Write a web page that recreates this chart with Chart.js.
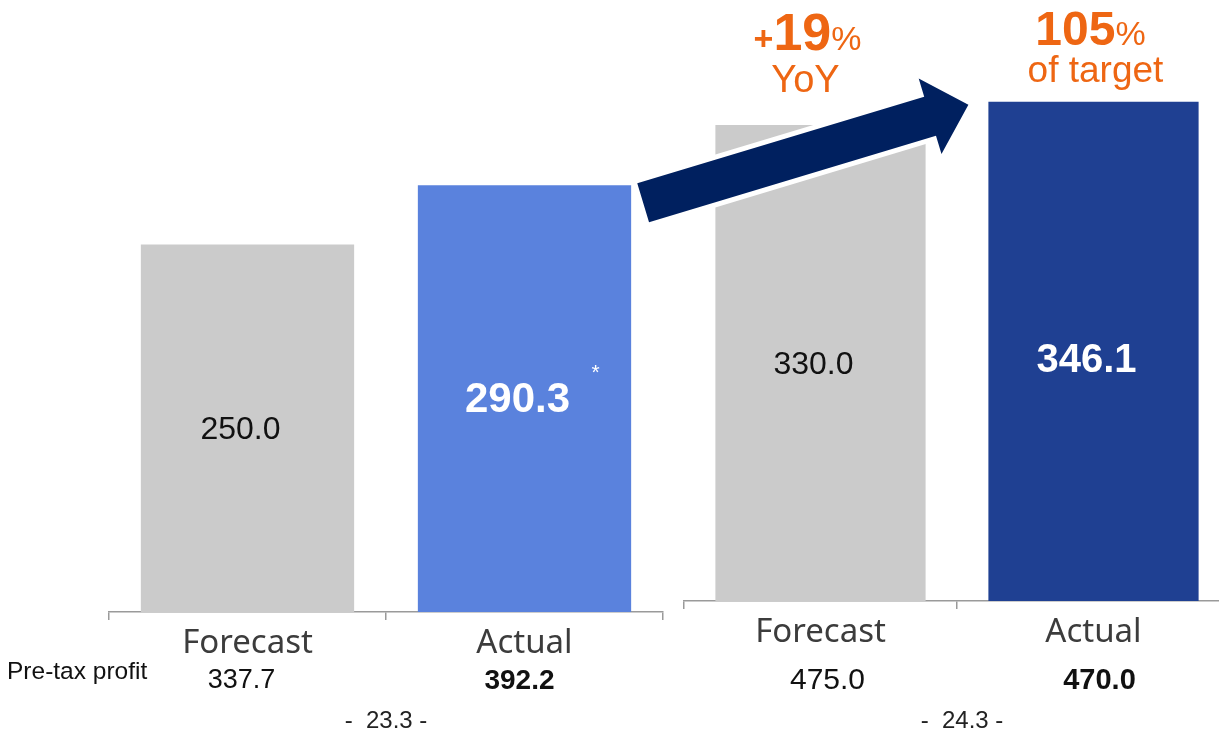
<!DOCTYPE html>
<html>
<head>
<meta charset="utf-8">
<script src="https://cdn.jsdelivr.net/npm/chart.js@4/dist/chart.umd.min.js"></script>
<style>
  html, body { margin: 0; padding: 0; background: #fff; overflow: hidden; }
  #wrap { position: relative; width: 1219px; height: 731px; overflow: hidden; }
  canvas { position: absolute; top: 0; }
  #fy23 { left: 0px; }
  #fy24 { left: 600px; }
</style>
</head>
<body>
<div id="wrap">
  <canvas id="fy23" width="700" height="731"></canvas>
  <canvas id="fy24" width="720" height="731"></canvas>
</div>
<script>
// Profit attributable (bars) and pre-tax profit (row under the axis), per fiscal year
const categories = ['Forecast', 'Actual'];
const periods = ['23.3', '24.3'];
const profitFY23 = [250.0, 290.3];
const profitFY24 = [330.0, 346.1];
const pretaxFY23 = [337.7, 392.2];
const pretaxFY24 = [475.0, 470.0];
const rowTitle = 'Pre-tax profit';

const ORANGE = '#EE6613';
const GREY_BAR = '#CBCBCB';
const AXIS = '#9A9A9A';
const SANS = '"Liberation Sans", Arial, sans-serif';
const LEFT_OFFSET = { fy23: 0, fy24: 600 };

function fmt(v) { return v.toFixed(1); }

// Value labels centred inside each bar
const barValueLabels = {
  id: 'barValueLabels',
  afterDatasetsDraw(chart, args, opts) {
    const ctx = chart.ctx;
    const meta = chart.getDatasetMeta(0);
    const values = chart.data.datasets[0].data;
    ctx.save();
    ctx.textAlign = 'center';
    ctx.textBaseline = 'middle';
    meta.data.forEach((el, i) => {
      const actual = i === 1;
      ctx.font = actual ? `bold ${opts.actualSize}px ${SANS}` : `32px ${SANS}`;
      ctx.fillStyle = actual ? '#FFFFFF' : '#111111';
      const x = el.x - 7;
      const y = (el.y + el.base) / 2 + 2 + (actual ? opts.actualDy : 0);
      ctx.fillText(fmt(values[i]), x, y);
      if (actual && opts.note) {
        ctx.font = `21px ${SANS}`;
        ctx.fillText(opts.note, x + 78, y - 27);
      }
    });
    ctx.restore();
  }
};

// Pre-tax profit row and period caption under the category axis
const pretaxRow = {
  id: 'pretaxRow',
  afterDraw(chart, args, opts) {
    const ctx = chart.ctx;
    const xs = chart.scales.x;
    ctx.save();
    ctx.textBaseline = 'middle';
    ctx.fillStyle = '#111111';
    if (opts.title) {
      ctx.textAlign = 'left';
      ctx.font = `24.5px ${SANS}`;
      ctx.fillText(opts.title, 7, 672);
    }
    ctx.textAlign = 'center';
    opts.values.forEach((v, i) => {
      ctx.font = i === 1 ? `bold ${opts.sizes[1]}px ${SANS}` : `${opts.sizes[0]}px ${SANS}`;
      ctx.fillText(fmt(v), xs.getPixelForValue(i) + opts.shift[i], 681);
    });
    const mid = (xs.getPixelForValue(0) + xs.getPixelForValue(1)) / 2;
    ctx.font = `24px ${SANS}`;
    ctx.fillStyle = '#222222';
    ctx.fillText('-  ' + opts.period + ' -', mid + opts.periodShift, 721);
    ctx.restore();
  }
};

function makeChart(id, values, colors, extra) {
  return new Chart(document.getElementById(id), {
    type: 'bar',
    data: {
      labels: categories,
      datasets: [{
        data: values,
        backgroundColor: colors,
        borderWidth: 0,
        barPercentage: 0.77,
        categoryPercentage: 1.0
      }]
    },
    options: {
      responsive: false,
      animation: false,
      devicePixelRatio: 1,
      layout: { padding: extra.padding },
      plugins: {
        legend: { display: false },
        tooltip: { enabled: false },
        barValueLabels: extra.labels,
        pretaxRow: extra.row
      },
      scales: {
        x: {
          offset: true,
          grid: { display: true, drawOnChartArea: false, drawTicks: true, tickLength: 8, color: AXIS, lineWidth: 1.5 },
          border: { display: true, color: AXIS, width: 1.5 },
          ticks: {
            padding: 4,
            color: '#3C3C3C',
            font: { family: '"Noto Sans", "Open Sans", sans-serif', size: 33 }
          },
          afterFit(scale) { scale.height = extra.axisHeight; }
        },
        y: { display: false, min: 0, max: 400 }
      }
    },
    plugins: [barValueLabels, pretaxRow].concat(extra.plugins || [])
  });
}

const chart23 = makeChart('fy23', profitFY23, [GREY_BAR, '#5A82DD'], {
  padding: { left: 109, right: 37, top: 24, bottom: 0 },
  axisHeight: 119,
  labels: { actualSize: 42, actualDy: 0, note: '*' },
  row: { values: pretaxFY23, sizes: [27, 28], period: periods[0], title: rowTitle, shift: [-6, -5], periodShift: 0 }
});

// Growth arrow and headline ratios drawn over the second year's bars
const headline = {
  id: 'headline',
  afterDraw(chart) {
    const ctx = chart.ctx;
    const cur = chart.getDatasetMeta(0).data;
    const prev = chart23.getDatasetMeta(0).data[1];
    const dx = LEFT_OFFSET.fy23 - LEFT_OFFSET.fy24;

    // arrow from last year's actual to this year's actual
    const tail = { x: prev.x + prev.width / 2 + 12 + dx, y: prev.y + 17.5 };
    const tip = { x: cur[1].x - cur[1].width / 2 - 20, y: cur[1].y + 3 };
    const L = Math.hypot(tip.x - tail.x, tip.y - tail.y);
    const u = { x: (tip.x - tail.x) / L, y: (tip.y - tail.y) / L };
    const n = { x: -u.y, y: u.x };
    const w = 20.4, hw = 39.5, hl = 40;
    const b = { x: tip.x - u.x * hl, y: tip.y - u.y * hl };
    const pts = [
      [tail.x - n.x * w, tail.y - n.y * w],
      [b.x - n.x * w, b.y - n.y * w],
      [b.x - n.x * hw, b.y - n.y * hw],
      [tip.x, tip.y],
      [b.x + n.x * hw, b.y + n.y * hw],
      [b.x + n.x * w, b.y + n.y * w],
      [tail.x + n.x * w, tail.y + n.y * w]
    ];
    ctx.save();
    ctx.beginPath();
    pts.forEach((p, i) => i ? ctx.lineTo(p[0], p[1]) : ctx.moveTo(p[0], p[1]));
    ctx.closePath();
    ctx.lineJoin = 'miter';
    ctx.lineWidth = 10;
    ctx.strokeStyle = '#FFFFFF';
    ctx.stroke();
    ctx.fillStyle = '#00205F';
    ctx.fill();

    // mixed-size text runs, centred on cx
    function runs(parts, cx, baseline) {
      let total = 0;
      parts.forEach(p => { ctx.font = p.font; p.w = ctx.measureText(p.text).width; total += p.w; });
      let x = cx - total / 2;
      ctx.textAlign = 'left';
      ctx.textBaseline = 'alphabetic';
      parts.forEach(p => { ctx.font = p.font; ctx.fillText(p.text, x, baseline); x += p.w; });
    }
    ctx.fillStyle = ORANGE;
    const yoy = Math.round((profitFY24[1] / profitFY23[1] - 1) * 100);
    const ofTarget = Math.round(profitFY24[1] / profitFY24[0] * 100);
    runs([
      { text: '+', font: `bold 34px ${SANS}` },
      { text: String(yoy), font: `bold 52px ${SANS}` },
      { text: '%', font: `34px ${SANS}` }
    ], cur[0].x - 13, 50);
    runs([{ text: 'YoY', font: `38px ${SANS}` }], cur[0].x - 15, 92);
    runs([
      { text: String(ofTarget), font: `bold 48px ${SANS}` },
      { text: '%', font: `34px ${SANS}` }
    ], cur[1].x - 3, 45);
    runs([{ text: 'of target', font: `37px ${SANS}` }], cur[1].x + 2, 82);
    ctx.restore();
  }
};

const chart24 = makeChart('fy24', profitFY24, [GREY_BAR, '#1F4092'], {
  padding: { left: 84, right: 90, top: 24, bottom: 0 },
  axisHeight: 130,
  labels: { actualSize: 40, actualDy: 8, note: '' },
  row: { values: pretaxFY24, sizes: [30, 29], period: periods[1], title: '', shift: [7, 6], periodShift: 5 },
  plugins: [headline]
});
</script>
</body>
</html>
